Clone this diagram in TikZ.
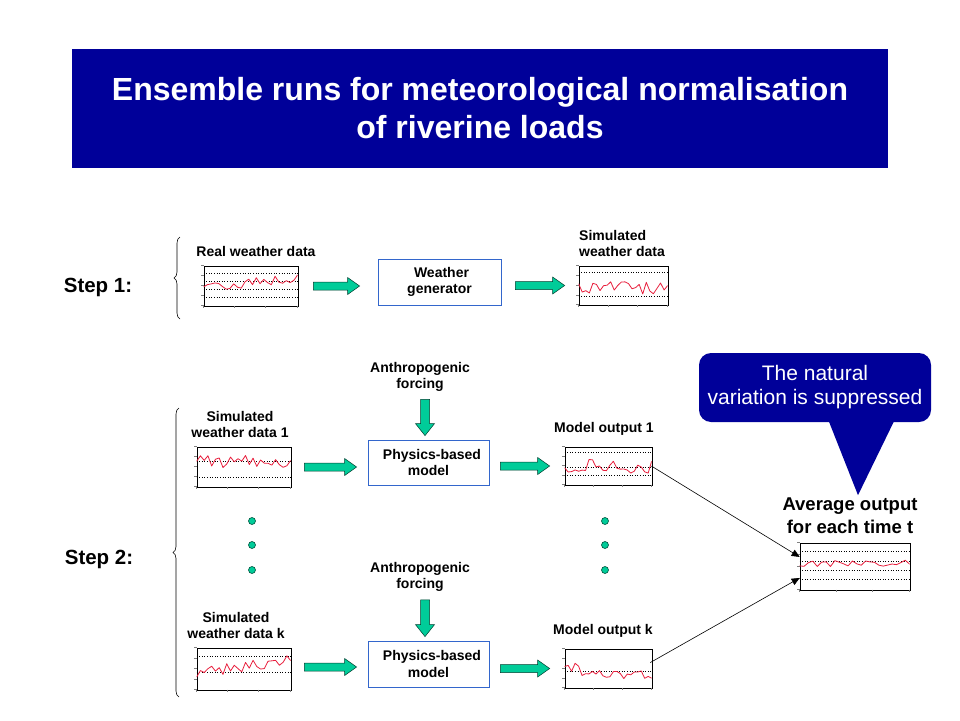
\documentclass[tikz,border=0pt]{standalone}
\usepackage{fontspec}
\setmainfont{Liberation Sans}
\usetikzlibrary{calc,decorations.pathreplacing,arrows.meta}
\definecolor{titleblue}{RGB}{0,0,153}
\definecolor{fatgreen}{RGB}{0,204,153}
\definecolor{boxblue}{RGB}{51,102,204}
\definecolor{plotred}{RGB}{232,30,60}
\tikzset{
 lbl/.style={font=\bfseries\fontsize{14}{16}\selectfont, align=center, inner sep=0pt},
 steplbl/.style={font=\bfseries\fontsize{20.5}{22}\selectfont, inner sep=0pt},
 procbox/.style={draw=boxblue, line width=0.8pt, fill=white, inner sep=0pt, font=\bfseries\fontsize{14}{16.5}\selectfont, align=center},
 chartbox/.style={draw=black, line width=0.7pt, inner sep=0pt, fill=white},
 gridl/.style={dotted, line width=0.6pt},
 redline/.style={draw=plotred, line width=0.8pt, line join=round},
 fat/.style={fill=fatgreen, draw=black!70!fatgreen, line width=0.5pt},
 dot/.style={circle, fill=fatgreen, draw=black!60!fatgreen, line width=0.6pt, minimum size=7pt, inner sep=0pt},
 link/.style={line width=0.6pt, -{Triangle[length=8pt,width=7pt]}},
 bracel/.style={decorate, decoration={brace, amplitude=6pt}, line width=0.6pt},
}
\newcommand\hfat[2]{\path[fat] let \p1=(#1), \p2=(#2) in (\x1,\y1+4pt) -- (\x2-12pt,\y1+4pt) -- (\x2-12pt,\y1+8.5pt) -- (\x2,\y1) -- (\x2-12pt,\y1-8.5pt) -- (\x2-12pt,\y1-4pt) -- (\x1,\y1-4pt) -- cycle;}
\newcommand\vfat[2]{\path[fat] let \p1=(#1), \p2=(#2) in (\x1-4.5pt,\y1) -- (\x1-4.5pt,\y2+12pt) -- (\x1-9.5pt,\y2+12pt) -- (\x1,\y2) -- (\x1+9.5pt,\y2+12pt) -- (\x1+4.5pt,\y2+12pt) -- (\x1+4.5pt,\y1) -- cycle;}
\newcommand\chartat[9]{%
 \node[chartbox, minimum width=#4pt, minimum height=#5pt] (#1) at (#2,#3) {};
 \begin{scope}[shift={(#1.north west)}]
  \foreach \g in {#7} {\draw[gridl] (0,\g) -- (#4,\g);}
  \foreach \t in {0,0.25,0.5,0.75,1} {\draw[black!50, line width=0.4pt] (-2.5,#5*\t) -- (0,#5*\t);}
  \foreach \t in {0,0.33,0.66,1} {\draw[black!50, line width=0.4pt] (#4*\t,#5) -- (#4*\t,#5+2.5);}
  \begin{scope}
  \clip (0,0) rectangle (#4,#5);
  \pgfmathsetseed{#6}
  \draw[redline] plot[domain=0:#4, samples=26] (\x,{#8+#9*rand});
  \end{scope}
 \end{scope}}
\begin{document}
\begin{tikzpicture}[x=1pt,y=-1pt]
\useasboundingbox[fill=white] (0,0) rectangle (960,720);
% title
\node[fill=titleblue, minimum width=816pt, minimum height=119pt, inner sep=0pt, text=white,
  font=\bfseries\fontsize{32}{38}\selectfont, align=center] (title) at (480,108)
  {Ensemble runs for meteorological normalisation\\of riverine loads};
% step labels and braces
\node[steplbl] (s1) at (98,287) {Step 1:};
\node[steplbl] (s2) at (99,559) {Step 2:};
\draw[bracel] (180,319) -- (180,237);
\draw[bracel] (179,697) -- (179,408);
% step 1
\node[lbl] (rwl) at (256,251) {Real weather data};
\chartat{rw}{251}{286}{94}{40}{11}{8,16,24,32}{21-0.08*\x}{5.5}
\node[procbox, minimum width=123pt, minimum height=46pt] (gen) at (439.5,282) {\hspace*{4pt}Weather\\generator};
\node[lbl, align=left] (swl) at (622,243) {Simulated\\weather data};
\chartat{sw}{623.5}{285.5}{89}{39}{27}{7,31}{23}{7}
\hfat{$(rw.east)+(15,0)$}{$(gen.west)+(-18,0)$}
\hfat{$(gen.east |- sw.west)+(14,0)$}{$(sw.west)+(-14,0)$}
% step 2, run 1
\node[lbl] (f1) at (420,376.5) {Anthropogenic\\forcing};
\node[procbox, minimum width=121pt, minimum height=45pt, text width=119pt] (pm1) at (428.5,462.5) {\hspace*{7pt}Physics-based\\model};
\coordinate (tip1) at ($(pm1.north)+(-3.5,-4)$);
\vfat{$(tip1 |- f1.south)+(0,8)$}{tip1}
\node[lbl] (sw1l) at (240,424) {Simulated\\weather data 1};
\chartat{sw1}{244}{467}{94}{40}{5}{15,31}{15}{6.5}
\node[lbl] (o1l) at (604,429) {Model output 1};
\chartat{out1}{608.5}{466}{87}{38}{41}{6,21,29}{19}{7.5}
\hfat{$(sw1.east)+(13,0)$}{$(pm1.west)+(-11,0)$}
\hfat{$(pm1.east |- out1.west)+(11,0)$}{$(out1.west)+(-15,0)$}
% dots
\node[dot] (d1) at (252,521) {};
\node[dot] (d2) at (252,545) {};
\node[dot] (d3) at (252,570) {};
\node[dot] (d4) at (605,521) {};
\node[dot] (d5) at (605,545) {};
\node[dot] (d6) at (605,570) {};
% step 2, run k
\node[lbl] (f2) at (420,577) {Anthropogenic\\forcing};
\node[procbox, minimum width=121pt, minimum height=46pt, text width=119pt] (pm2) at (428.5,664) {\hspace*{7pt}Physics-based\\model};
\coordinate (tip2) at ($(pm2.north)+(-3.5,-4)$);
\vfat{$(tip2 |- f2.south)+(0,8)$}{tip2}
\node[lbl] (swkl) at (236,625.5) {Simulated\\weather data k};
\chartat{swk}{244}{669}{94}{42}{73}{9,25}{25-0.13*\x}{5.5}
\node[lbl] (okl) at (603,631) {Model output k};
\chartat{outk}{608.5}{668.5}{87}{39}{19}{23}{20+0.08*\x}{6.5}
\hfat{$(swk.east)+(13,-2)$}{$(pm2.west)+(-11,0)$}
\hfat{$(pm2.east |- outk.west)+(11,0)$}{$(outk.west)+(-15,0)$}
% average
\node[font=\bfseries\fontsize{18.5}{23}\selectfont, align=center, inner sep=0pt] (avgl) at (850,515.5) {Average output\\for each time t};
\chartat{avg}{855}{566.5}{110}{47}{8}{9,19,28,37}{21}{3.5}
\draw[link] ($(out1.east)+(-1,0)$) -- ($(avg.north west)!0.3!(avg.south west)$);
\draw[link] ($(outk.east)+(-2,-6)$) -- ($(avg.north west)!0.74!(avg.south west)$);
% callout
\node[fill=titleblue, rounded corners=12pt, minimum width=232pt, minimum height=69pt, inner sep=0pt,
  text=white, font=\fontsize{21}{24}\selectfont, align=center] (co) at (815,387.5)
  {The natural\\variation is suppressed};
\fill[titleblue] ($(co.south)+(13,-3)$) -- ($(co.south)+(80,-3)$) -- ($(co.south)+(43,73)$) -- cycle;
\end{tikzpicture}
\end{document}
